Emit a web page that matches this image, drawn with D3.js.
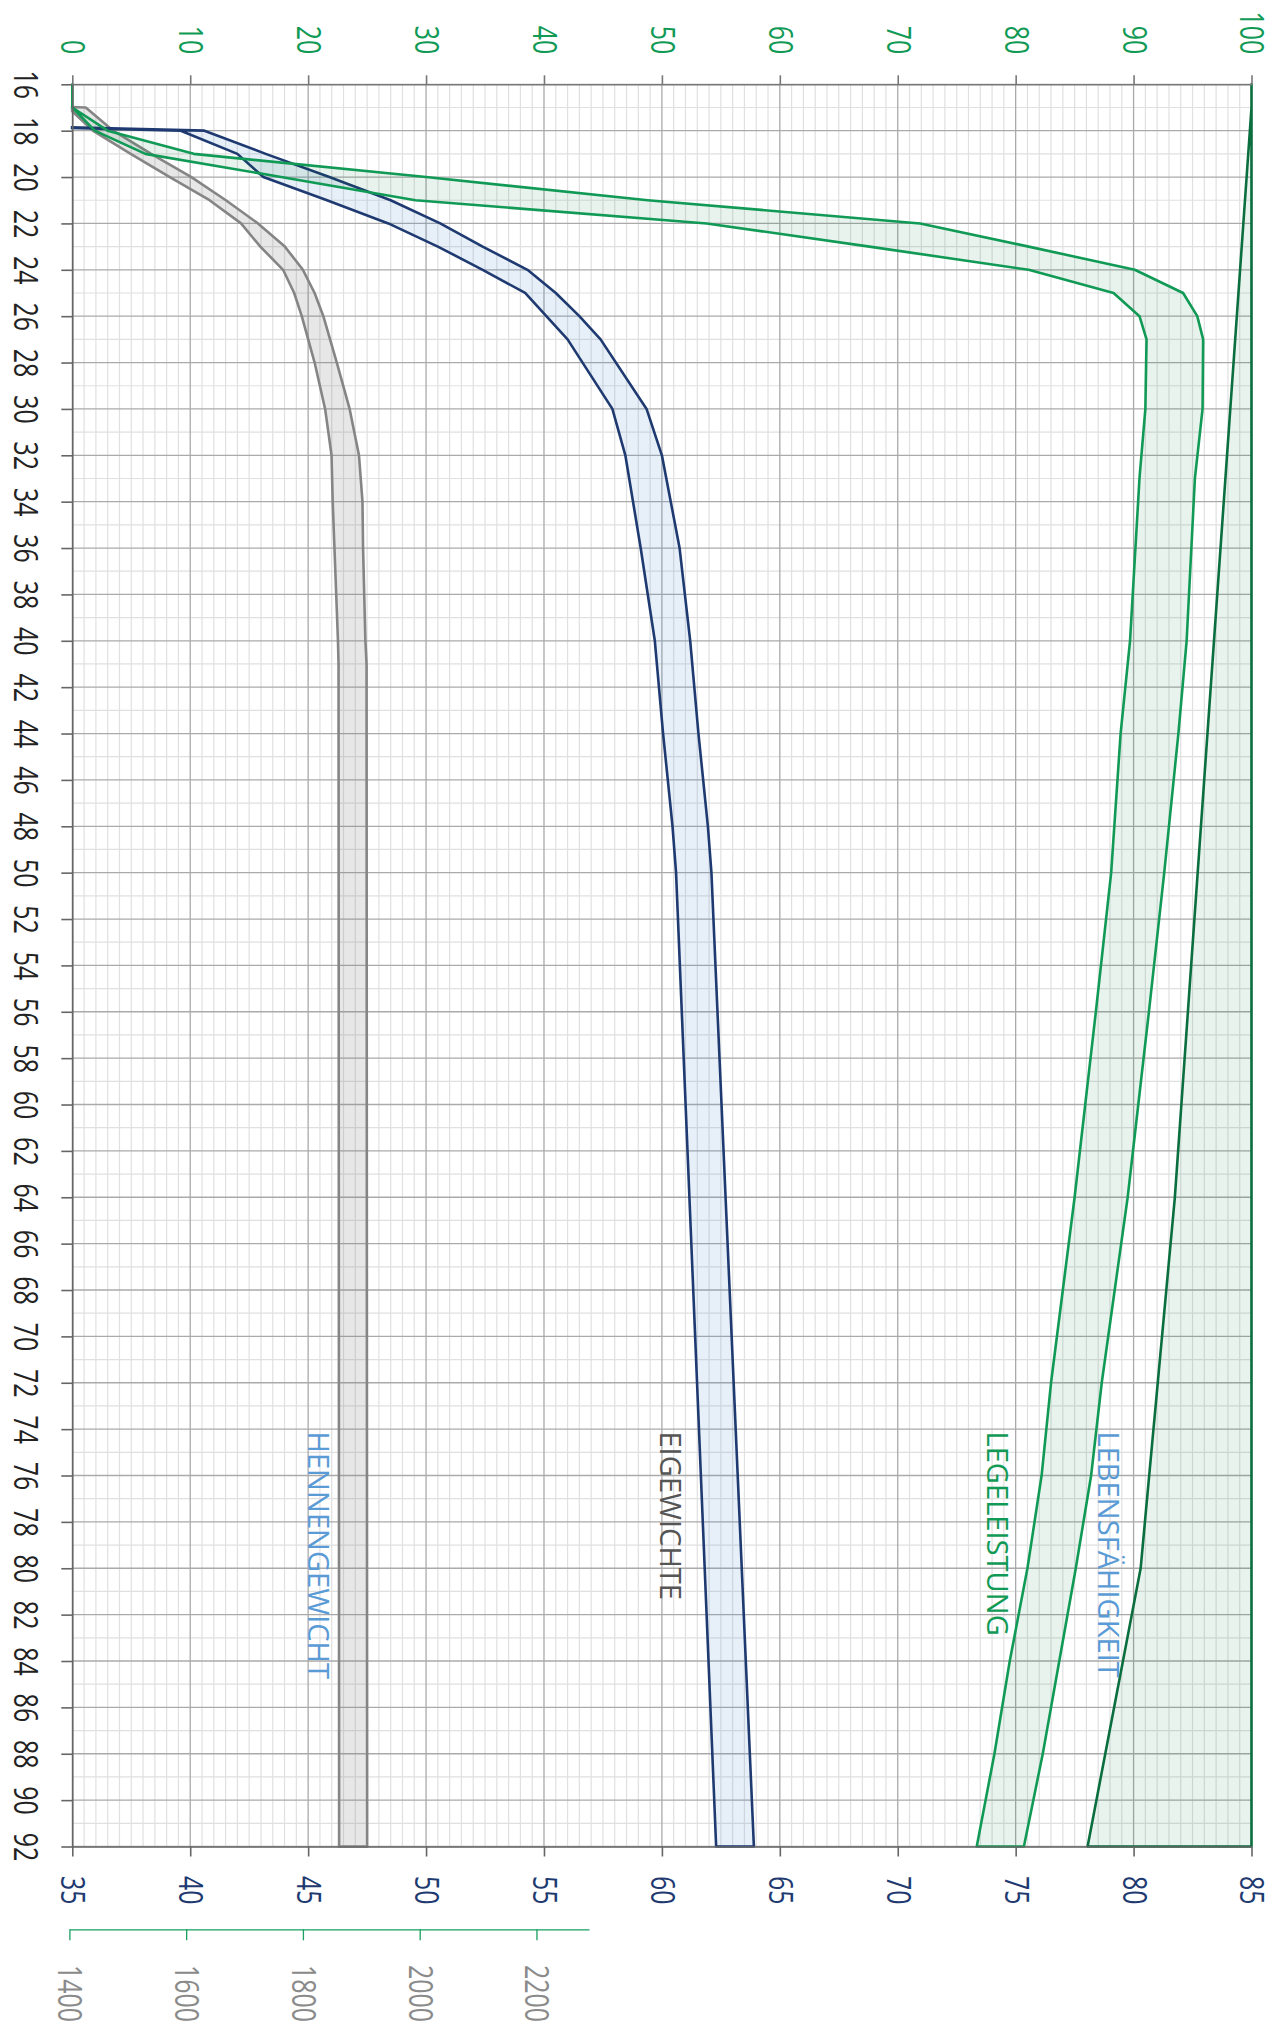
<!DOCTYPE html>
<html>
<head>
<meta charset="utf-8">
<script src="https://cdn.jsdelivr.net/npm/d3@7"></script>
<style>
html, body { margin: 0; padding: 0; background: #fff; }
svg { display: block; font-family: "Open Sans", sans-serif; }
</style>
</head>
<body>
<svg id="chart" width="1278" height="2039"></svg>
<script>
// === DATA ===
// weeks of age run down the page, values run across (chart is turned 90 deg)
const weekTicks = d3.range(16, 93, 2);
const pctTicks = d3.range(0, 101, 10);
const eggTicks = d3.range(35, 86, 5);
const henTicks = [1400, 1600, 1800, 2000, 2200];

// Legeleistung (%) - lower and upper line of the band
const layWeeks = [16, 17, 18, 19, 20, 21, 22, 23, 24, 25, 26, 27, 30, 33, 40, 44, 50, 56, 60, 64, 68, 72, 76, 80, 84, 88, 92];
const layLow   = [0, 0, 1.9, 6.2, 17.7, 29.1, 53.8, 67.6, 81.1, 88.3, 90.5, 91.1, 91.0, 90.5, 89.7, 88.9, 88.1, 86.8, 85.9, 85.0, 84.0, 83.0, 82.2, 81.0, 79.5, 78.2, 76.7];
const layHigh  = [0, 0, 3.0, 10.3, 30.0, 48.8, 71.9, 81.1, 90.1, 94.2, 95.4, 95.9, 95.85, 95.2, 94.5, 93.8, 92.6, 91.3, 90.4, 89.5, 88.4, 87.3, 86.4, 85.1, 83.7, 82.3, 80.7];

// Lebensfähigkeit (%), band up to 100
const livWeeks  = [16, 17, 64, 80, 92];
const livValues = [100, 100, 93.5, 90.6, 86.1];

// Eigewicht (g)
const eggWeeks = [17, 18, 19, 20, 21, 22, 23, 24, 25, 26, 27, 30, 32, 36, 40, 44, 48, 50, 92];
const eggLow   = [0, 39.6, 42.0, 43.1, 45.8, 48.4, 50.5, 52.4, 54.2, 55.1, 56.0, 57.9, 58.45, 59.1, 59.7, 60.05, 60.45, 60.6, 62.3];
const eggHigh  = [0, 40.6, 43.2, 45.9, 48.5, 50.6, 52.4, 54.3, 55.5, 56.5, 57.4, 59.35, 60.0, 60.75, 61.2, 61.55, 61.95, 62.1, 63.9];

// Hennengewicht (g)
const henWeeks = [16, 17, 18, 19, 20, 21, 22, 23, 24, 25, 26, 28, 30, 32, 34, 36, 38, 40, 41, 92];
const henLow   = [0, 1398, 1440, 1505, 1572, 1640, 1694, 1727, 1766, 1785, 1798, 1820, 1838, 1849, 1851, 1854, 1857, 1860, 1861, 1862];
const henHigh  = [0, 1428, 1475, 1540, 1609, 1668, 1723, 1769, 1800, 1820, 1835, 1858, 1880, 1896, 1902, 1903, 1905, 1907, 1909, 1910];

// series names written inside the plot (position: week, value on 0-100 scale)
const annotations = [
    { text: "LEBENSFÄHIGKEIT", week: 74.1, at: 87.0, color: "#5b9bd5" },
    { text: "LEGELEISTUNG",    week: 74.1, at: 77.6, color: "#119a56" },
    { text: "EIGEWICHTE",      week: 74.1, at: 49.8, color: "#555555" },
    { text: "HENNENGEWICHT",   week: 74.1, at: 20.0, color: "#5b9bd5" }
];

// === SCALES ===
const plotTop = 84.3, plotBottom = 1846.5, plotLeft = 72.3, plotRight = 1251.5;
const y = d3.scaleLinear().domain([16, 92]).range([plotTop, plotBottom]);
const pct = d3.scaleLinear().domain([0, 100]).range([plotLeft, plotRight]);
const egg = d3.scaleLinear().domain([35, 85]).range([plotLeft, plotRight]);
const hen = d3.scaleLinear().domain([1400, 2290]).range([69.4, 589]);

const svg = d3.select("#chart");
const numSize = 32, numSqueeze = 0.78;

// === GRID ===
const grid = svg.append("g");
grid.selectAll(".vminor")
    .data(d3.range(0, 101).filter(v => v % 10 !== 0))
    .enter().append("line")
    .attr("x1", d => pct(d)).attr("x2", d => pct(d))
    .attr("y1", plotTop).attr("y2", plotBottom)
    .attr("stroke", "#e0e0e0").attr("stroke-width", 1.2);
grid.selectAll(".hminor")
    .data(d3.range(16, 93).filter(w => w % 2 !== 0))
    .enter().append("line")
    .attr("x1", plotLeft).attr("x2", plotRight)
    .attr("y1", d => y(d)).attr("y2", d => y(d))
    .attr("stroke", "#e0e0e0").attr("stroke-width", 1.2);
grid.selectAll(".vmajor")
    .data(pctTicks)
    .enter().append("line")
    .attr("x1", d => pct(d)).attr("x2", d => pct(d))
    .attr("y1", plotTop).attr("y2", plotBottom)
    .attr("stroke", "#aaaaaa").attr("stroke-width", 1.3);
grid.selectAll(".hmajor")
    .data(weekTicks)
    .enter().append("line")
    .attr("x1", plotLeft).attr("x2", plotRight)
    .attr("y1", d => y(d)).attr("y2", d => y(d))
    .attr("stroke", "#aaaaaa").attr("stroke-width", 1.3);

// === BANDS ===
svg.append("clipPath").attr("id", "plotClip")
    .append("rect")
    .attr("x", plotLeft - 1.5).attr("y", plotTop - 2)
    .attr("width", plotRight - plotLeft + 3.5).attr("height", plotBottom - plotTop + 4);

const bands = svg.append("g").attr("clip-path", "url(#plotClip)");

function bandPath(weeks, lo, hi, sx) {
    return d3.area()
        .x0((d, i) => sx(lo[i]))
        .x1((d, i) => sx(hi[i]))
        .y(d => y(d))(weeks);
}

function drawBand(d, fill, stroke) {
    bands.append("path")
        .attr("d", d)
        .attr("fill", fill)
        .attr("stroke", stroke)
        .attr("stroke-width", 2.6)
        .attr("stroke-linejoin", "round");
}

drawBand(bandPath(henWeeks, henLow, henHigh, hen), "rgba(110,110,110,0.17)", "#858585");
drawBand(bandPath(eggWeeks, eggLow, eggHigh, egg), "rgba(70,130,200,0.13)", "#1e3a70");
drawBand(bandPath(layWeeks, layLow, layHigh, pct), "rgba(0,120,60,0.09)", "#119a56");
drawBand(bandPath(livWeeks, livValues, livWeeks.map(() => 100), pct), "rgba(0,120,60,0.09)", "#0b6e3e");

// === AXES ===
function styleAxis(g, color, textColor) {
    g.select(".domain").attr("stroke", color).attr("stroke-width", 1.6);
    g.selectAll(".tick line").attr("stroke", color).attr("stroke-width", 1.6);
    g.selectAll(".tick text")
        .attr("fill", textColor)
        .attr("font-size", numSize)
        .attr("font-family", "'Open Sans', sans-serif")
        .attr("x", 0).attr("y", 0).attr("dy", "0.36em");
}

// top: Legeleistung / Lebensfähigkeit %
const topAxis = svg.append("g")
    .attr("transform", `translate(0,${plotTop})`)
    .call(d3.axisTop(pct).tickValues(pctTicks).tickSize(9).tickSizeOuter(0));
styleAxis(topAxis, "#777", "#119a56");
topAxis.selectAll(".tick text")
    .attr("text-anchor", "end")
    .attr("transform", `translate(0,-30) rotate(90) scale(${numSqueeze},1)`);

// left: weeks
const leftAxis = svg.append("g")
    .attr("transform", `translate(${plotLeft},0)`)
    .call(d3.axisLeft(y).tickValues(weekTicks).tickSize(11).tickSizeOuter(0));
styleAxis(leftAxis, "#666", "#222");
leftAxis.selectAll(".tick text")
    .attr("text-anchor", "middle")
    .attr("transform", `translate(-47,0) rotate(90) scale(${numSqueeze},1)`);

// bottom: Eigewicht g
const eggAxis = svg.append("g")
    .attr("transform", `translate(0,${plotBottom})`)
    .call(d3.axisBottom(egg).tickValues(eggTicks).tickSize(10).tickSizeOuter(0));
styleAxis(eggAxis, "#666", "#1e3a70");
eggAxis.selectAll(".tick text")
    .attr("text-anchor", "start")
    .attr("transform", `translate(0,29.5) rotate(90) scale(${numSqueeze},1)`);

// second bottom axis: Hennengewicht g
const henAxis = svg.append("g")
    .attr("transform", "translate(0,1929.3)")
    .call(d3.axisBottom(hen).tickValues(henTicks).tickFormat(d3.format("d")).tickSize(11).tickSizeOuter(0));
styleAxis(henAxis, "#1aa060", "#8a8a8a");
henAxis.select(".domain").attr("stroke-width", 1.3);
henAxis.selectAll(".tick line").attr("stroke-width", 1.3);
henAxis.selectAll(".tick text")
    .attr("text-anchor", "start")
    .attr("transform", `translate(0,35.7) rotate(90) scale(${numSqueeze},1)`);

// === SERIES NAMES ===
svg.append("g").selectAll("text")
    .data(annotations)
    .enter().append("text")
    .attr("transform", d => `translate(${pct(d.at)},${y(d.week)}) rotate(90) scale(0.97,1)`)
    .attr("fill", d => d.color)
    .attr("font-size", 30)
    .text(d => d.text);
</script>
</body>
</html>
